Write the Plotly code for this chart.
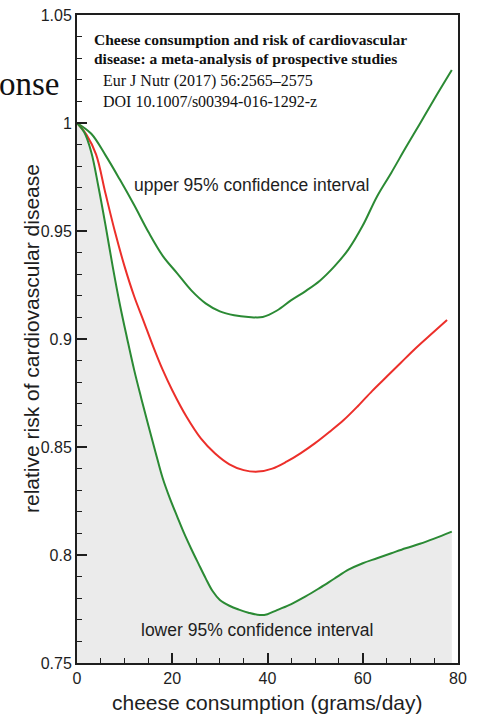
import plotly.graph_objects as go

# ---- data ----
upper_x = [0, 3, 6, 9, 12, 15, 18, 21, 24, 27, 30, 33, 36, 39, 42, 45, 48, 51, 54, 57, 60, 63, 66, 69, 72, 75, 78.7]
upper_y = [1.0, 0.9950, 0.9850, 0.9738, 0.9620, 0.9495, 0.9385, 0.9305, 0.9225, 0.9165, 0.9128, 0.9110, 0.9102,
           0.9102, 0.9132, 0.9180, 0.9222, 0.9270, 0.9335, 0.9415, 0.9525, 0.9660, 0.9770, 0.9885, 0.9997, 1.0110, 1.0245]

mid_x = [0, 2, 4, 6, 8, 10, 12, 14, 16, 18, 20, 23, 26, 29, 32, 35, 38, 41, 44, 47, 50, 53, 56, 59, 62, 65, 68, 71, 74, 77.7]
mid_y = [1.0, 0.9945, 0.9855, 0.9672, 0.9494, 0.9335, 0.9198, 0.9082, 0.8965, 0.8857, 0.8763, 0.8640, 0.8540, 0.8470,
         0.8420, 0.8393, 0.8386, 0.8400, 0.8432, 0.8472, 0.8518, 0.8570, 0.8625, 0.8690, 0.8760, 0.8825, 0.8890,
         0.8955, 0.9015, 0.9088]

lower_x = [0, 1.5, 3, 4.5, 6, 7.5, 9, 10.5, 12, 13.5, 15, 16.5, 18, 19.5, 21, 22.5, 24, 25.5, 27, 28.5, 30, 32, 34,
           36, 38.4, 40, 42, 45, 48, 51, 54, 57, 60, 63, 66, 69, 72, 75, 78.7]
lower_y = [1.0, 0.9958, 0.9865, 0.9705, 0.9525, 0.9335, 0.9160, 0.9005, 0.8857, 0.8725, 0.8598, 0.8475, 0.8355,
           0.8262, 0.8180, 0.8100, 0.8028, 0.7960, 0.7893, 0.7832, 0.7792, 0.7765, 0.7747, 0.7733, 0.7722, 0.7726,
           0.7745, 0.7773, 0.7808, 0.7848, 0.7890, 0.7932, 0.7962, 0.7985, 0.8008, 0.8031, 0.8052, 0.8076, 0.8108]

x_ticks = [0, 20, 40, 60, 80]
y_ticks = [0.75, 0.8, 0.85, 0.9, 0.95, 1.0, 1.05]
y_ticklabels = ["0.75", "0.8", "0.85", "0.9", "0.95", "1", "1.05"]

GREEN = "#2b8a34"
RED = "#ec2f2a"
INK = "#1e1e1e"

W, H = 477, 715
L, R, T, B = 77, 19, 15, 52
PW, PH = W - L - R, H - T - B


def px(xpix):
    return (xpix - L) / PW


def py(ypix):
    return (H - B - ypix) / PH


fig = go.Figure()

# grey shading under the lower confidence curve
fig.add_trace(go.Scatter(x=lower_x, y=lower_y, mode="lines",
                         line=dict(color="rgba(0,0,0,0)", width=0, shape="spline"),
                         fill="tozeroy", fillcolor="#ebebeb", hoverinfo="skip", showlegend=False))
fig.add_trace(go.Scatter(x=upper_x, y=upper_y, mode="lines", line=dict(color=GREEN, width=2, shape="spline"), showlegend=False))
fig.add_trace(go.Scatter(x=mid_x, y=mid_y, mode="lines", line=dict(color=RED, width=2, shape="spline"), showlegend=False))
fig.add_trace(go.Scatter(x=lower_x, y=lower_y, mode="lines", line=dict(color=GREEN, width=2, shape="spline"), showlegend=False))

sans = "Liberation Sans, Arial, sans-serif"
serif = "Liberation Serif, Times New Roman, serif"

axis_common = dict(showgrid=False, zeroline=False, showline=True, linecolor=INK, linewidth=2, mirror=True,
                   ticks="inside", ticklen=10, tickwidth=2, tickcolor=INK, automargin=False,
                   tickfont=dict(family=sans, size=16, color=INK))

fig.update_xaxes(range=[0, 80], tickvals=x_ticks,
                 minor=dict(dtick=5, ticks="inside", ticklen=5, tickcolor=INK, tickwidth=1.2),
                 **axis_common)
fig.update_yaxes(range=[0.75, 1.05], tickvals=y_ticks, ticktext=y_ticklabels,
                 minor=dict(dtick=0.01, ticks="inside", ticklen=5, tickcolor=INK, tickwidth=1.2),
                 **axis_common)


def note(xpix, ypix, text, size, family, xanchor="center", color=INK, angle=0):
    fig.add_annotation(x=px(xpix), y=py(ypix), xref="paper", yref="paper", showarrow=False,
                       xanchor=xanchor, yanchor="middle", textangle=angle, text=text,
                       font=dict(family=family, size=size, color=color))


# axis titles
note(267, 702, "cheese consumption (grams/day)", 21, sans)
note(31, 339, "relative risk of cardiovascular disease", 21, sans, angle=-90)

# citation box text
note(92, 40, "<b>Cheese consumption and risk of cardiovascular</b>", 15.5, serif, "left", "#111")
note(92, 59, "<b>disease: a meta-analysis of prospective studies</b>", 15.5, serif, "left", "#111")
note(101, 81, "Eur J Nutr (2017) 56:2565–2575", 16, serif, "left", "#111")
note(101, 101, "DOI 10.1007/s00394-016-1292-z", 16, serif, "left", "#111")

note(251, 185, "upper 95% confidence interval", 17.5, sans)
note(257, 630, "lower 95% confidence interval", 17.5, sans)
# cut-off text at the top left
note(62, 84, "onse", 33, serif, "right", "#111")

fig.update_layout(width=W, height=H, margin=dict(l=L, r=R, t=T, b=B),
                  paper_bgcolor="white", plot_bgcolor="white", showlegend=False)

fig.write_html("out.html", config={"displayModeBar": False},
               post_script="document.body.style.margin='0';")
